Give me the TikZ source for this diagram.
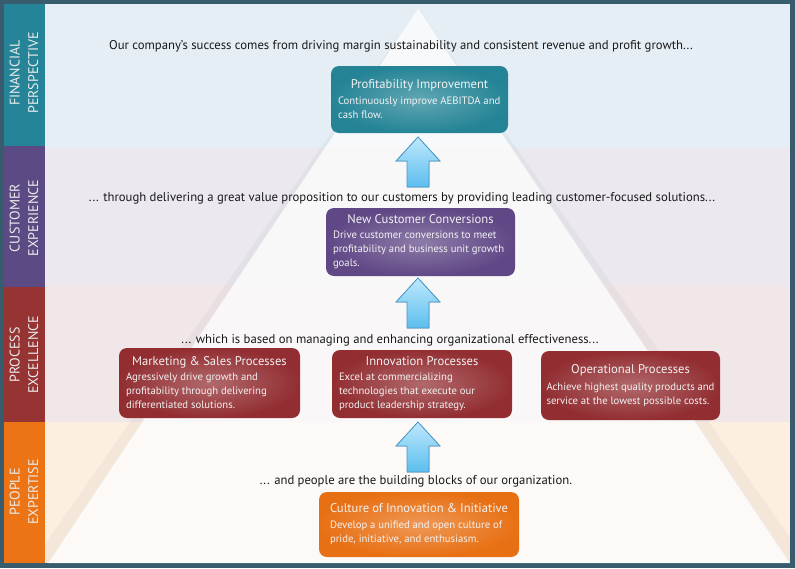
\documentclass[tikz,border=0pt]{standalone}
\usepackage{fontspec}
\setmainfont{PT Sans}
\usepackage{xcolor}
\usetikzlibrary{positioning}
\definecolor{framedark}{RGB}{56, 92, 110}
\definecolor{finband}{RGB}{38, 132, 152}
\definecolor{custband}{RGB}{92, 74, 132}
\definecolor{procband}{RGB}{150, 52, 52}
\definecolor{peopleband}{RGB}{236, 116, 20}
\definecolor{finlight}{RGB}{229, 238, 244}
\definecolor{custlight}{RGB}{235, 232, 240}
\definecolor{proclight}{RGB}{242, 231, 232}
\definecolor{peoplelight}{RGB}{252, 239, 226}
\definecolor{profitteal}{RGB}{36, 132, 150}
\definecolor{convpurple}{RGB}{96, 72, 134}
\definecolor{procred}{RGB}{146, 46, 50}
\definecolor{cultureorange}{RGB}{232, 112, 20}
\definecolor{arrowtop}{RGB}{190, 232, 252}
\definecolor{arrowbot}{RGB}{92, 190, 238}
\definecolor{arrowedge}{RGB}{70, 150, 200}
\definecolor{captiongray}{RGB}{25, 25, 25}

\newcommand\boxtitle{\fontsize{12.6}{14}\selectfont}
\newcommand\boxbody{\fontsize{10.7}{14}\selectfont}
\newcommand\liftarrow[2]{\filldraw[liftarrow] (#1,#2) -- ++(22,24) -- ++(-11,0) -- ++(0,26) -- ++(-22,0) -- ++(0,-26) -- ++(-11,0) -- cycle;}

\begin{document}
\begin{tikzpicture}[x=1pt, y=-1pt,
  bandlabel/.style={rotate=90, align=center, text=white!92!black, font=\fontsize{14}{18.5}\selectfont},
  caption/.style={text=captiongray, font=\fontsize{12.7}{15}\selectfont},
  box/.style={rounded corners=8pt, inner sep=0pt, outer color=#1, inner color=#1!72!white, text=white!95!black},
  liftarrow/.style={top color=arrowtop, bottom color=arrowbot, draw=arrowedge, line width=0.8pt}]

% frame and bands
\fill[framedark] (0,0) rectangle (795,568);
\fill[finlight] (45,4) rectangle (790,148);
\fill[custlight] (45,148) rectangle (790,285);
\fill[proclight] (45,285) rectangle (790,422);
\fill[peoplelight] (45,422) rectangle (790,563);
\fill[finband] (4,4) rectangle (45,146);
\fill[custband] (4,146) rectangle (45,287);
\fill[procband] (4,287) rectangle (45,422);
\fill[peopleband] (4,422) rectangle (45,563);

% pyramid
\begin{scope}
\clip (45,4) rectangle (790,563);
\fill[black, opacity=0.03] (418,8) -- (808,563) -- (32,563) -- cycle;
\fill[white, opacity=0.78] (418,8) -- (790,563) -- (48,563) -- cycle;
\end{scope}
\draw[white!85!gray, line width=0.4pt] (48,563) -- (418,8) -- (790,563);

% perspective labels
\node[bandlabel] (finlbl) at (24,73) {FINANCIAL\\PERSPECTIVE};
\node[bandlabel] (custlbl) at (24,218) {CUSTOMER\\EXPERIENCE};
\node[bandlabel] (proclbl) at (24,355) {PROCESS\\EXCELLENCE};
\node[bandlabel] (peoplelbl) at (24,492) {PEOPLE\\EXPERTISE};

% captions
\node[caption] (cap1) at (401,46) {Our company’s success comes from driving margin sustainability and consistent revenue and profit growth...};
\node[caption] (cap2) at (402,198) {... through delivering a great value proposition to our customers by providing leading customer-focused solutions...};
\node[caption] (cap3) at (390,340) {... which is based on managing and enhancing organizational effectiveness...};
\node[caption] (cap4) at (416,481) {... and people are the building blocks of our organization.};

% boxes
\node[box=profitteal, minimum width=177pt, minimum height=67pt] (profit) at (419.5,99.5) {
\begin{minipage}{163pt}
{\centering\boxtitle Profitability Improvement\par}\vspace{2pt}
{\raggedright\boxbody Continuously improve AEBITDA and\\cash flow.\par}
\end{minipage}
};
\node[box=convpurple, minimum width=189pt, minimum height=68pt] (conv) at (420.5,242) {
\begin{minipage}{175pt}
{\centering\boxtitle New Customer Conversions\par}\vspace{1pt}
{\raggedright\boxbody Drive customer conversions to meet\\profitability and business unit growth\\goals.\par}
\end{minipage}
};
\node[box=procred, minimum width=181pt, minimum height=70pt] (mkt) at (209.5,383) {
\begin{minipage}{167pt}
{\centering\boxtitle Marketing \& Sales Processes\par}\vspace{1pt}
{\raggedright\boxbody Agressively drive growth and\\profitability through delivering\\differentiated solutions.\par}
\end{minipage}
};
\node[box=procred, minimum width=180pt, minimum height=68pt] (innov) at (422,384) {
\begin{minipage}{166pt}
{\centering\boxtitle Innovation Processes\par}\vspace{1pt}
{\raggedright\boxbody Excel at commercializing\\technologies that execute our\\product leadership strategy.\par}
\end{minipage}
};
\node[box=procred, minimum width=179pt, minimum height=69pt] (oper) at (630.5,385.5) {
\begin{minipage}{168pt}
{\centering\boxtitle Operational Processes\par}\vspace{3pt}
{\raggedright\boxbody Achieve highest quality products and\\service at the lowest possible costs.\par}
\end{minipage}
};
\node[box=cultureorange, minimum width=200pt, minimum height=65pt] (culture) at (419,524.5) {
\begin{minipage}{178pt}
{\centering\boxtitle Culture of Innovation \& Initiative\par}\vspace{2pt}
{\raggedright\boxbody Develop a unified and open culture  of\\pride, initiative,  and enthusiasm.\par}
\end{minipage}
};

% arrows
\liftarrow{418}{137}
\liftarrow{418}{278}
\liftarrow{418}{422}
\end{tikzpicture}
\end{document}
